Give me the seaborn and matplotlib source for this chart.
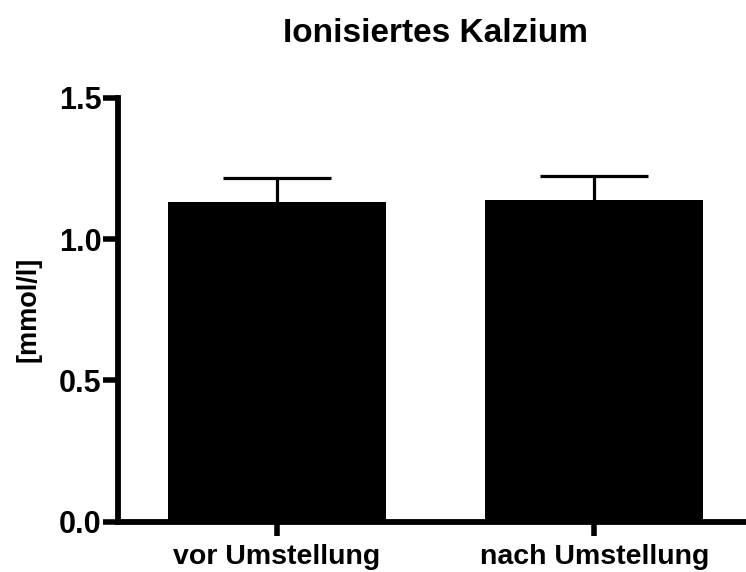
import matplotlib
matplotlib.use("Agg")
import matplotlib.pyplot as plt
import seaborn as sns
import pandas as pd
import numpy as np

categories = ["vor Umstellung", "nach Umstellung"]
means = [1.133, 1.139]
sd = [0.083, 0.086]
yticks = [0.0, 0.5, 1.0, 1.5]
ytick_labels = ["0.0", "0.5", "1.0", "1.5"]
title = "Ionisiertes Kalzium"
ylabel = "[mmol/l]"

sns.set_theme(style="ticks")
plt.rcParams["font.family"] = ["Liberation Sans", "DejaVu Sans"]
plt.rcParams["font.weight"] = "bold"
plt.rcParams["text.color"] = "black"
plt.rcParams["axes.labelcolor"] = "black"

df = pd.DataFrame({"cat": categories, "val": means})

fig = plt.figure(figsize=(7.46, 5.72), dpi=100)
ax = fig.add_axes([118 / 746, 50.5 / 572, 635 / 746, 423.5 / 572])

sns.barplot(data=df, x="cat", y="val", color="black", width=0.687,
            errorbar=None, ax=ax, edgecolor="black", linewidth=0, saturation=1)
for p in ax.patches:
    p.set_facecolor("black")
    p.set_zorder(2)

xpos = np.arange(len(categories))
eb = ax.errorbar(xpos, means, yerr=[np.zeros(len(sd)), sd], fmt="none",
                 ecolor="black", elinewidth=2.3, capsize=39, capthick=2.3, zorder=1)
caplines = eb[1]
if len(caplines) == 2:
    caplines[0].set_visible(False)

ax.set_xlim(-0.5, 1.5)
ax.set_ylim(0, 1.5)
ax.set_yticks(yticks)
ax.set_yticklabels(ytick_labels)
ax.set_xlabel("")
ax.set_ylabel(ylabel, fontsize=19.5, fontweight="bold", color="black")
ax.yaxis.set_label_coords(-0.121, 0.5)
ax.set_title(title, fontsize=24, fontweight="bold", pad=40, color="black")

for s in ["top", "right"]:
    ax.spines[s].set_visible(False)
for s in ["left", "bottom"]:
    ax.spines[s].set_linewidth(4.2)
    ax.spines[s].set_color("black")
    ax.spines[s].set_zorder(3)
ax.spines["left"].set_capstyle("projecting")
ax.spines["bottom"].set_capstyle("projecting")

ax.tick_params(axis="y", length=11, width=4, color="black", pad=1, labelsize=22)
ax.tick_params(axis="x", length=10, width=4, color="black", pad=6, labelsize=20.5)
for lab in ax.get_xticklabels() + ax.get_yticklabels():
    lab.set_fontweight("bold")
    lab.set_color("black")

fig.savefig("out.png", dpi=100, facecolor="white")
